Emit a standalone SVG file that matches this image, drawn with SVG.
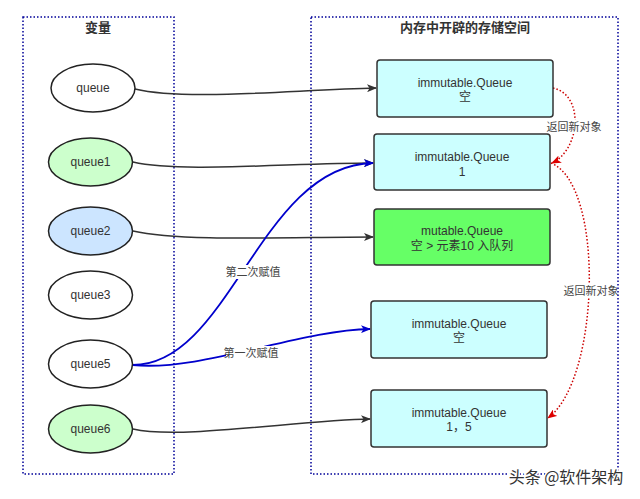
<svg xmlns="http://www.w3.org/2000/svg" width="640" height="499" viewBox="0 0 640 499">
<defs>
<style>
.cont{fill:none;stroke:#000099;stroke-width:1.5;stroke-dasharray:1.5 2}
.title{font-family:"Noto Sans CJK SC","Liberation Sans",sans-serif;font-size:13px;font-weight:bold;fill:#333;text-anchor:middle}
.ell{stroke:#222;stroke-width:1.5}
.box{stroke:#333;stroke-width:1.5}
.t{font-family:"Liberation Sans","Noto Sans CJK SC",sans-serif;font-size:12px;fill:#333;text-anchor:middle}
.lbl{font-family:"Noto Sans CJK SC","Liberation Sans",sans-serif;font-size:11px;fill:#444;text-anchor:middle}
.e{fill:none;stroke:#333;stroke-width:1.5}
.b{fill:none;stroke:#0000CC;stroke-width:1.8}
.r{fill:none;stroke:#CC0000;stroke-width:1.5;stroke-dasharray:1.5 2}
</style>
<marker id="ab" markerWidth="10" markerHeight="8" refX="9" refY="4" orient="auto" markerUnits="userSpaceOnUse"><path d="M0,0 L10,4 L0,8 L2.5,4 Z" fill="#333"/></marker>
<marker id="abb" markerWidth="10" markerHeight="8" refX="9" refY="4" orient="auto" markerUnits="userSpaceOnUse"><path d="M0,0 L10,4 L0,8 L2.5,4 Z" fill="#0000CC"/></marker>
<marker id="abr" markerWidth="10" markerHeight="8" refX="9" refY="4" orient="auto" markerUnits="userSpaceOnUse"><path d="M0,0 L10,4 L0,8 L2.5,4 Z" fill="#DD0000"/></marker>
</defs>
<rect width="640" height="499" fill="#fff"/>
<g id="containers">
<rect class="cont" x="23" y="17" width="151" height="457"/>
<rect class="cont" x="311" y="17" width="307" height="457"/>
<text class="title" x="98" y="32">变量</text>
<text class="title" x="465" y="32">内存中开辟的存储空间</text>
</g>
<g id="connectors">
<path class="e" d="M135,89 C185,101 290,90 376,88" marker-end="url(#ab)"/>
<path class="e" d="M133,162 C180,173 290,163 373,163" marker-end="url(#ab)"/>
<path class="e" d="M133,231 C180,242 290,237 373,237" marker-end="url(#ab)"/>
<path class="e" d="M133,429 C180,440 300,420 370,419" marker-end="url(#ab)"/>
<path class="b" d="M133,365 C230,365 260,165 373,163" marker-end="url(#abb)"/>
<path class="b" d="M133,365 C200,372 300,330 370,329" marker-end="url(#abb)"/>
<path class="r" d="M553,88 C585,95 580,150 552,163" marker-end="url(#abr)"/>
<path class="r" d="M551,163 C605,185 600,380 548,418" marker-end="url(#abr)"/>
<rect x="228" y="265" width="50" height="14" fill="#fff"/>
<text class="lbl" x="253" y="276">第二次赋值</text>
<rect x="226" y="346" width="50" height="14" fill="#fff"/>
<text class="lbl" x="251" y="357">第一次赋值</text>
<rect x="548" y="120" width="52" height="14" fill="#fff"/>
<text class="lbl" x="574" y="131">返回新对象</text>
<rect x="565" y="284" width="52" height="14" fill="#fff"/>
<text class="lbl" x="591" y="295">返回新对象</text>
</g>
<g id="queue"><ellipse class="ell" cx="93" cy="88" rx="42" ry="24" fill="#fff"/><text class="t" x="93" y="92">queue</text></g>
<g id="queue1"><ellipse class="ell" cx="90.5" cy="162" rx="42" ry="24" fill="#CCFFCC"/><text class="t" x="90.5" y="166">queue1</text></g>
<g id="queue2"><ellipse class="ell" cx="90.5" cy="231" rx="42" ry="24" fill="#CCE5FF"/><text class="t" x="90.5" y="235">queue2</text></g>
<g id="queue3"><ellipse class="ell" cx="90.5" cy="295" rx="42" ry="24" fill="#fff"/><text class="t" x="90.5" y="299">queue3</text></g>
<g id="queue5"><ellipse class="ell" cx="90.5" cy="364" rx="42" ry="24" fill="#fff"/><text class="t" x="90.5" y="368">queue5</text></g>
<g id="queue6"><ellipse class="ell" cx="90.5" cy="429" rx="42" ry="24" fill="#CCFFCC"/><text class="t" x="90.5" y="433">queue6</text></g>
<g id="box1"><rect class="box" x="377" y="60" width="176" height="57" rx="3" fill="#CCFFFF"/><text class="t" x="465" y="87">immutable.Queue</text><text class="t" x="465" y="101">空</text></g>
<g id="box2"><rect class="box" x="374" y="134" width="176" height="56" rx="3" fill="#CCFFFF"/><text class="t" x="462" y="161">immutable.Queue</text><text class="t" x="462" y="176">1</text></g>
<g id="box3"><rect class="box" x="374" y="209" width="176" height="56" rx="3" fill="#66FF66"/><text class="t" x="462" y="235">mutable.Queue</text><text class="t" x="462" y="250">空 &gt; 元素10 入队列</text></g>
<g id="box4"><rect class="box" x="371" y="301" width="176" height="57" rx="3" fill="#CCFFFF"/><text class="t" x="459" y="328">immutable.Queue</text><text class="t" x="459" y="342">空</text></g>
<g id="box5"><rect class="box" x="371" y="390" width="176" height="57" rx="3" fill="#CCFFFF"/><text class="t" x="459" y="417">immutable.Queue</text><text class="t" x="459" y="431">1，5</text></g>
<text x="566" y="483" font-family="Noto Sans CJK SC,sans-serif" font-size="16" fill="#333" stroke="#fff" stroke-width="3" paint-order="stroke" text-anchor="middle">头条 @软件架构</text>
</svg>
